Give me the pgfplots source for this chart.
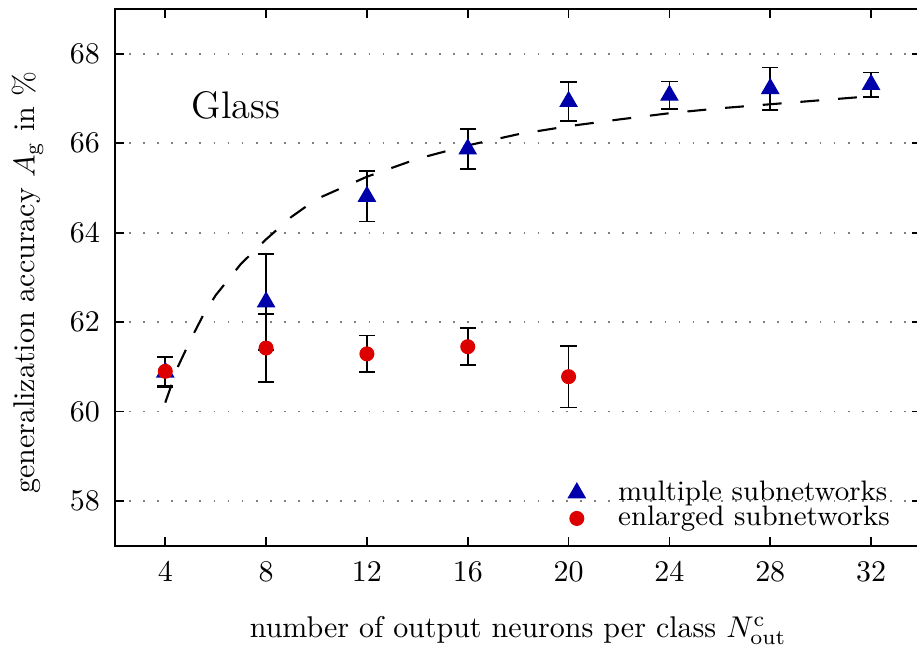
\documentclass[border=0pt]{standalone}
\usepackage{pgfplots}
\pgfplotsset{compat=1.18}
\definecolor{mblue}{RGB}{0,0,170}
\definecolor{mred}{RGB}{220,0,0}
\begin{document}
\begin{tikzpicture}
\begin{axis}[
 scale only axis, width=269pt, height=179pt,
 xmin=2, xmax=34, ymin=57, ymax=69,
 xtick={4,8,...,32}, ytick={58,60,...,68},
 tick align=inside, major tick length=3pt,
 tick style={black, line width=0.6pt},
 axis line style={line width=0.8pt},
 ymajorgrids, grid style={gray, line width=0.6pt, dash pattern=on 0.6pt off 4.1pt},
 xticklabel style={yshift=-1.8pt},
 yticklabel style={xshift=-1.5pt},
 label style={font=\fontsize{10.6}{12.5}\selectfont},
 every axis x label/.style={at={(axis description cs:0.5,-0.158)}, anchor=center},
 every axis y label/.style={at={(axis description cs:-0.108,0.49)}, rotate=90, anchor=center},
 xlabel={number of output neurons per class $N^{\mathrm{c}}_{\mathrm{out}}$},
 ylabel={generalization accuracy $A_{\mathrm{g}}$ in \%},
 legend style={draw=none, fill=none, at={(0.98,0.005)}, anchor=south east,
   font=\fontsize{9.4}{11}\selectfont, row sep=-3.5pt, column sep=9pt},
 legend cell align=left,
]
\addplot[black, line width=0.7pt, dash pattern=on 6.3pt off 6.3pt, forget plot] coordinates {
(4,60.2) (4.5,61.0) (5,61.6) (5.5,62.15) (6,62.6) (7,63.3) (8,63.85) (9,64.35) (10,64.75)
(12,65.25) (14,65.65) (16,65.95) (18,66.2) (20,66.38) (22,66.53) (24,66.67) (26,66.78)
(28,66.87) (30,66.96) (32,67.05)};
\addplot[only marks, mark=triangle*, mark size=3.2pt, mblue, mark options={fill=mblue, draw=mblue},
 error bars/.cd, y dir=both, y explicit,
 error bar style={black, line width=0.6pt},
 error mark options={rotate=90, black, mark size=2.7pt, line width=0.6pt}]
 coordinates {
(4,60.88) +- (0,0.33)
(8,62.45) +- (0,1.08)
(12,64.81) +- (0,0.56)
(16,65.87) +- (0,0.44)
(20,66.93) +- (0,0.43)
(24,67.07) +- (0,0.31)
(28,67.22) +- (0,0.47)
(32,67.31) +- (0,0.27)};
\addlegendentry{multiple subnetworks}
\addplot[only marks, mark=*, mark size=2.3pt, mred, mark options={fill=mred, draw=mred},
 error bars/.cd, y dir=both, y explicit,
 error bar style={black, line width=0.6pt},
 error mark options={rotate=90, black, mark size=2.7pt, line width=0.6pt}]
 coordinates {
(4,60.90) +- (0,0.33)
(8,61.42) +- (0,0.76)
(12,61.29) +- (0,0.41)
(16,61.45) +- (0,0.41)
(20,60.78) +- (0,0.69)};
\addlegendentry{enlarged subnetworks}
\node[font=\fontsize{12.8}{15}\selectfont] at (axis cs:6.8,66.84) {Glass};
\end{axis}
\pgfresetboundingbox
\path ([xshift=-38.3pt,yshift=-34pt]current axis.south west) rectangle ([xshift=-1.5pt,yshift=3pt]current axis.north east);
\end{tikzpicture}
\end{document}
